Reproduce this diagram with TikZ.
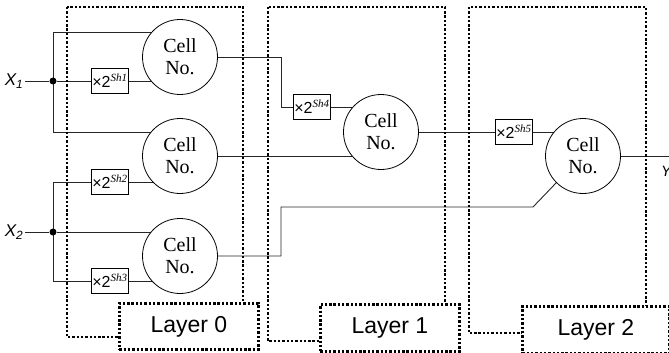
\documentclass[tikz,border=0pt]{standalone}
\usepackage{fontspec}
\setmainfont{Liberation Serif}
\setsansfont{Liberation Sans}
\usetikzlibrary{backgrounds}
\begin{document}
\begin{tikzpicture}[x=1pt,y=-1pt,
 cell/.style={circle,draw,fill=white,minimum size=75pt,inner sep=0pt,align=center,line width=0.8pt,font=\fontsize{20}{22}\selectfont},
 mult/.style={draw,fill=white,minimum width=37pt,minimum height=25pt,inner sep=0pt,line width=0.7pt,font=\sffamily\fontsize{16}{16}\selectfont},
 sup/.style={},
 wire/.style={line width=0.9pt,draw=black!85},
 dotbox/.style={draw,line width=2.8pt,dash pattern=on 2.4pt off 1.9pt},
 labbox/.style={dotbox,fill=white,anchor=north west,inner sep=0pt,font=\sffamily\fontsize{23}{23}\selectfont},
 dotn/.style={circle,fill,inner sep=0pt,minimum size=7pt},
 inlab/.style={font=\sffamily\itshape\fontsize{17}{17}\selectfont,inner sep=2pt}]
\useasboundingbox (0,0) rectangle (669,353);
% layer boxes
\draw[dotbox] (67,7) rectangle (243,337);
\draw[dotbox] (268,7) rectangle (445,341);
\draw[dotbox] (469,7) rectangle (646,333);
\node[labbox,minimum width=139pt,minimum height=46pt] (l0) at (118,302) {Layer 0};
\node[labbox,minimum width=139pt,minimum height=47pt] (l1) at (319,303) {Layer 1};
\node[labbox,minimum width=147pt,minimum height=47pt] (l2) at (521,305) {Layer 2};
% inputs
\node[inlab] (x1) at (14,81) {X\textsubscript{1}};
\node[inlab] (x2) at (14,232) {X\textsubscript{2}};
\node[dotn] (d1) at (53,81) {};
\node[dotn] (d2) at (53,232) {};
\coordinate (t1) at (53,32);
\coordinate (b1) at (53,132);
\coordinate (t2) at (53,182);
\coordinate (b2) at (53,281);
% cells
\node[cell] (c0a) at (180,57) {Cell\\No.};
\node[cell] (c0b) at (180,156) {Cell\\No.};
\node[cell] (c0c) at (180,256) {Cell\\No.};
\node[cell] (c1) at (381,132) {Cell\\No.};
\node[cell] (c2) at (583,156) {Cell\\No.};
% multipliers
\node[mult] (s1) at (110,81) {×2\textsuperscript{\rmfamily\itshape\fontsize{11}{11}\selectfont Sh1}};
\node[mult] (s2) at (110,182) {×2\textsuperscript{\rmfamily\itshape\fontsize{11}{11}\selectfont Sh2}};
\node[mult] (s3) at (110,281) {×2\textsuperscript{\rmfamily\itshape\fontsize{11}{11}\selectfont Sh3}};
\node[mult] (s4) at (312,107) {×2\textsuperscript{\rmfamily\itshape\fontsize{11}{11}\selectfont Sh4}};
\node[mult] (s5) at (514,132) {×2\textsuperscript{\rmfamily\itshape\fontsize{11}{11}\selectfont Sh5}};
% output
\coordinate (yout) at (669,156);
\node[font=\sffamily\itshape\fontsize{15}{15}\selectfont,anchor=west,inner sep=0pt] (ylab) at (661,171) {Y};
\coordinate (k1) at (281,57);
\coordinate (k2) at (281,207);
\coordinate (k3) at (533,207);
\begin{scope}[on background layer]
\draw[wire] (x1.east) -- (d1);
\draw[wire] (x2.east) -- (d2);
\draw[wire] (t1) -- (b1);
\draw[wire] (t2) -- (b2);
\draw[wire] (t1) -- (t1 -| c0a);
\draw[wire] (d1) -- (s1) -- (s1 -| c0a);
\draw[wire] (b1) -- (b1 -| c0b);
\draw[wire] (t2) -- (s2) -- (s2 -| c0b);
\draw[wire] (d2) -- (d2 -| c0c);
\draw[wire] (b2) -- (s3) -- (s3 -| c0c);
\draw[wire] (c0a) -- (k1) -- (k1 |- s4) -- (s4) -- (s4 -| c1);
\draw[wire] (c0b) -- (c0b -| c1);
\draw[wire] (c0c) -- (c0c -| k2) -- (k2) -- (k3) -- (c2.225);
\draw[wire] (c1) -- (s5) -- (s5 -| c2);
\draw[wire] (c2) -- (yout);
\end{scope}
\end{tikzpicture}
\end{document}
